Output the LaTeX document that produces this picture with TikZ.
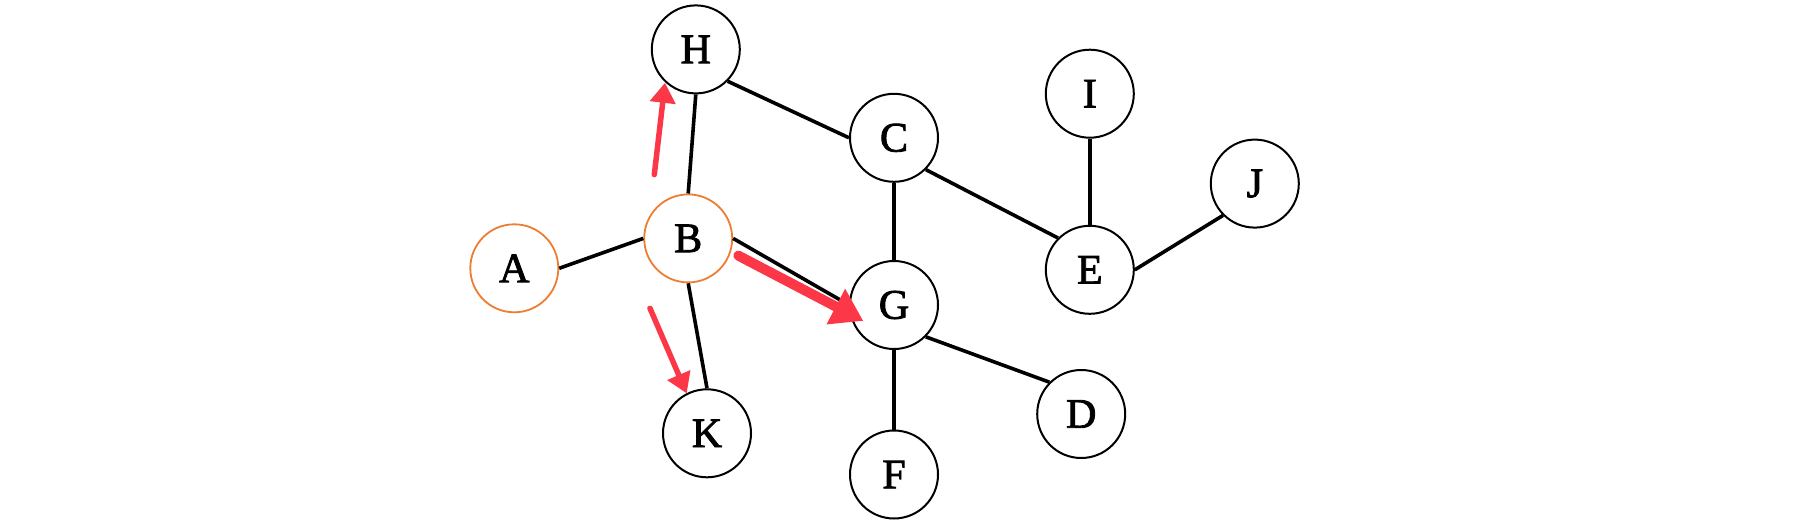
\documentclass[tikz,border=0pt]{standalone}
\usepackage{fontspec}
\setmainfont{Liberation Serif}
\newfontfamily\lblfont{Liberation Serif}[FakeBold=2]
\usetikzlibrary{arrows.meta}
\definecolor{nodeorange}{RGB}{237,125,49}
\definecolor{arrowred}{RGB}{252,56,72}
\tikzset{
  vert/.style={circle, draw=black, line width=2pt, minimum size=88pt, inner sep=0pt,
    font=\lblfont\fontsize{42}{42}\selectfont},
  hot/.style={vert, draw=nodeorange, line width=1.8pt},
  edge/.style={draw=black, line width=3.6pt},
  hint/.style={draw=arrowred, line cap=round},
}
\begin{document}
\begin{tikzpicture}[x=1pt,y=-1pt]
\useasboundingbox (0,0) rectangle (1812,530);
\node[vert] (H) at (695.8,49.4) {H};
\node[hot]  (B) at (688.2,238.4) {B};
\node[hot]  (A) at (514.3,268.3) {A};
\node[vert] (C) at (894,137.8) {C};
\node[vert] (G) at (894,305) {G};
\node[vert] (K) at (707,433.3) {K};
\node[vert] (F) at (894,474.5) {F};
\node[vert] (I) at (1089.8,93.7) {I};
\node[vert] (J) at (1254.8,183.6) {J};
\node[vert] (E) at (1089.8,269.8) {E};
\node[vert] (D) at (1081.2,414) {D};

\draw[edge] (A.east) -- (B.west);
\draw[edge] (B.north) -- (H.south);
\draw[edge] (H.south east) -- (C.west);
\draw[edge] (B.south) -- (K.north);
\draw[edge] (B.east) -- (G.west);
\draw[edge] (C.south) -- (G.north);
\draw[edge] (C.south east) -- (E.north west);
\draw[edge] (I.south) -- (E.north);
\draw[edge] (E.east) -- (J.south west);
\draw[edge] (G.south east) -- (D.north west);
\draw[edge] (G.south) -- (F.north);

\coordinate (h1s) at (654.3,174.6);
\coordinate (h1e) at (665,82.8);
\coordinate (h2s) at (738.3,255.6);
\coordinate (h2e) at (863.3,320.9);
\coordinate (h3s) at (650,308.3);
\coordinate (h3e) at (686.7,393.4);
\draw[hint, line width=5.5pt, -{Triangle[length=20pt,width=25pt]}] (h1s) -- (h1e);
\draw[hint, line width=10pt, -{Triangle[length=31pt,width=38pt]}] (h2s) -- (h2e);
\draw[hint, line width=5.5pt, -{Triangle[length=20pt,width=24pt]}] (h3s) -- (h3e);
\end{tikzpicture}
\end{document}
